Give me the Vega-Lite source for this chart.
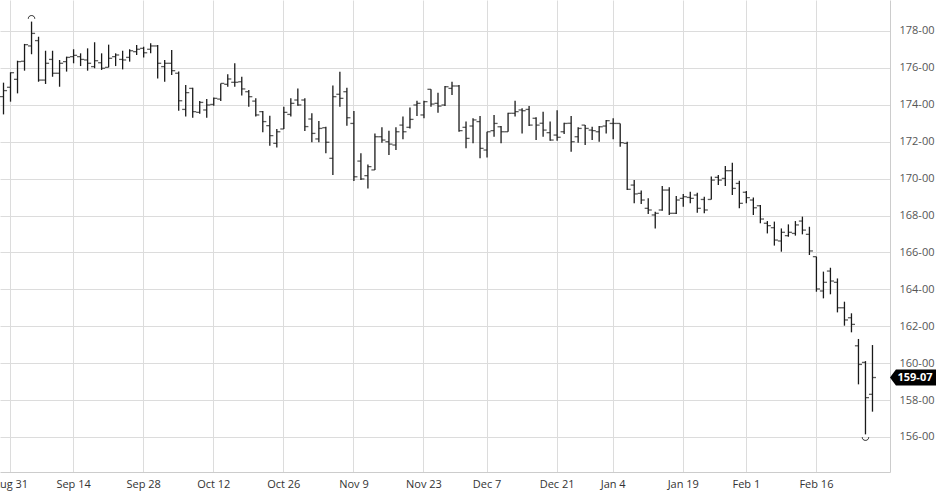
{
  "$schema": "https://vega.github.io/schema/vega-lite/v6.json",
  "width": 890,
  "height": 472,
  "autosize": {"type": "none"},
  "padding": {"left": 0, "top": 0, "right": 46, "bottom": 20},
  "background": "white",
  "config": {"view": {"stroke": null}, "font": "Open Sans"},
  "data": {"values": [
    {"d":"2020-08-28","o":174.44,"h":175.20,"l":173.48,"c":174.77},
    {"d":"2020-08-31","o":174.95,"h":175.76,"l":174.17,"c":175.74},
    {"d":"2020-09-01","o":175.38,"h":176.39,"l":174.62,"c":176.34},
    {"d":"2020-09-02","o":176.36,"h":177.30,"l":175.85,"c":177.26},
    {"d":"2020-09-03","o":177.19,"h":178.51,"l":176.74,"c":177.87},
    {"d":"2020-09-04","o":177.48,"h":177.69,"l":175.25,"c":175.34},
    {"d":"2020-09-08","o":175.34,"h":176.93,"l":175.13,"c":176.25},
    {"d":"2020-09-09","o":176.46,"h":176.93,"l":175.52,"c":175.71},
    {"d":"2020-09-10","o":175.71,"h":176.43,"l":174.98,"c":176.25},
    {"d":"2020-09-11","o":176.34,"h":176.61,"l":175.80,"c":176.57},
    {"d":"2020-09-14","o":176.61,"h":177.01,"l":176.25,"c":176.68},
    {"d":"2020-09-15","o":176.61,"h":176.79,"l":176.10,"c":176.46},
    {"d":"2020-09-16","o":176.43,"h":177.06,"l":175.85,"c":176.25},
    {"d":"2020-09-17","o":176.07,"h":177.39,"l":175.98,"c":176.39},
    {"d":"2020-09-18","o":176.28,"h":176.79,"l":175.89,"c":175.98},
    {"d":"2020-09-21","o":176.03,"h":177.26,"l":176.03,"c":176.52},
    {"d":"2020-09-22","o":176.61,"h":176.79,"l":176.10,"c":176.70},
    {"d":"2020-09-23","o":176.46,"h":176.93,"l":175.92,"c":176.43},
    {"d":"2020-09-24","o":176.57,"h":177.01,"l":176.34,"c":176.93},
    {"d":"2020-09-25","o":176.88,"h":177.24,"l":176.70,"c":177.01},
    {"d":"2020-09-28","o":177.06,"h":177.15,"l":176.57,"c":176.82},
    {"d":"2020-09-29","o":177.01,"h":177.33,"l":176.79,"c":177.19},
    {"d":"2020-09-30","o":177.19,"h":177.24,"l":175.43,"c":176.25},
    {"d":"2020-10-01","o":176.07,"h":176.43,"l":175.25,"c":176.25},
    {"d":"2020-10-02","o":176.25,"h":176.97,"l":175.61,"c":175.85},
    {"d":"2020-10-05","o":175.71,"h":175.80,"l":173.68,"c":174.22},
    {"d":"2020-10-06","o":173.75,"h":175.07,"l":173.36,"c":174.66},
    {"d":"2020-10-07","o":174.89,"h":174.93,"l":173.30,"c":173.63},
    {"d":"2020-10-08","o":173.59,"h":174.20,"l":173.52,"c":174.13},
    {"d":"2020-10-09","o":173.72,"h":174.31,"l":173.30,"c":173.99},
    {"d":"2020-10-12","o":174.02,"h":174.39,"l":173.95,"c":174.35},
    {"d":"2020-10-13","o":174.31,"h":175.16,"l":174.20,"c":175.16},
    {"d":"2020-10-14","o":175.11,"h":175.65,"l":174.98,"c":175.40},
    {"d":"2020-10-15","o":175.22,"h":176.25,"l":174.98,"c":175.22},
    {"d":"2020-10-16","o":175.25,"h":175.52,"l":174.50,"c":174.86},
    {"d":"2020-10-19","o":174.71,"h":174.80,"l":173.90,"c":174.44},
    {"d":"2020-10-20","o":174.20,"h":174.35,"l":173.36,"c":173.45},
    {"d":"2020-10-21","o":173.63,"h":173.66,"l":172.51,"c":173.09},
    {"d":"2020-10-22","o":172.87,"h":173.41,"l":171.78,"c":172.33},
    {"d":"2020-10-23","o":171.91,"h":172.69,"l":171.68,"c":172.54},
    {"d":"2020-10-26","o":172.69,"h":173.90,"l":172.69,"c":173.59},
    {"d":"2020-10-27","o":173.48,"h":174.35,"l":173.36,"c":174.08},
    {"d":"2020-10-28","o":174.26,"h":174.89,"l":173.95,"c":173.99},
    {"d":"2020-10-29","o":174.26,"h":174.35,"l":172.58,"c":172.82},
    {"d":"2020-10-30","o":173.23,"h":173.54,"l":171.97,"c":172.45},
    {"d":"2020-11-02","o":172.15,"h":173.12,"l":171.97,"c":172.72},
    {"d":"2020-11-03","o":172.76,"h":172.81,"l":171.37,"c":171.97},
    {"d":"2020-11-04","o":171.10,"h":175.04,"l":170.19,"c":174.44},
    {"d":"2020-11-05","o":174.57,"h":175.79,"l":173.90,"c":174.35},
    {"d":"2020-11-06","o":174.71,"h":174.93,"l":172.87,"c":173.30},
    {"d":"2020-11-09","o":172.99,"h":173.66,"l":169.87,"c":170.10},
    {"d":"2020-11-10","o":170.95,"h":171.37,"l":169.92,"c":169.98},
    {"d":"2020-11-11","o":170.16,"h":170.77,"l":169.47,"c":170.65},
    {"d":"2020-11-12","o":170.47,"h":172.45,"l":170.47,"c":172.27},
    {"d":"2020-11-13","o":172.27,"h":172.78,"l":171.95,"c":172.09},
    {"d":"2020-11-16","o":172.00,"h":172.60,"l":171.28,"c":171.87},
    {"d":"2020-11-17","o":171.82,"h":172.78,"l":171.55,"c":172.54},
    {"d":"2020-11-18","o":172.90,"h":173.36,"l":172.13,"c":172.54},
    {"d":"2020-11-19","o":172.78,"h":173.86,"l":172.72,"c":173.21},
    {"d":"2020-11-20","o":173.99,"h":174.22,"l":173.39,"c":174.08},
    {"d":"2020-11-23","o":173.45,"h":174.22,"l":173.27,"c":174.17},
    {"d":"2020-11-24","o":174.84,"h":174.84,"l":173.90,"c":174.04},
    {"d":"2020-11-25","o":174.08,"h":174.66,"l":173.57,"c":173.93},
    {"d":"2020-11-27","o":173.99,"h":175.02,"l":173.93,"c":174.98},
    {"d":"2020-11-30","o":174.89,"h":175.25,"l":174.53,"c":175.02},
    {"d":"2020-12-01","o":175.02,"h":175.07,"l":172.54,"c":172.60},
    {"d":"2020-12-02","o":172.78,"h":173.09,"l":171.64,"c":172.18},
    {"d":"2020-12-03","o":172.85,"h":173.27,"l":171.92,"c":173.18},
    {"d":"2020-12-04","o":173.09,"h":173.39,"l":171.10,"c":171.64},
    {"d":"2020-12-07","o":171.55,"h":172.54,"l":171.15,"c":172.54},
    {"d":"2020-12-08","o":172.60,"h":173.45,"l":172.27,"c":172.99},
    {"d":"2020-12-09","o":172.81,"h":172.85,"l":171.91,"c":172.54},
    {"d":"2020-12-10","o":172.54,"h":173.57,"l":172.54,"c":173.54},
    {"d":"2020-12-11","o":173.54,"h":174.22,"l":173.36,"c":173.63},
    {"d":"2020-12-14","o":173.72,"h":173.81,"l":172.45,"c":173.68},
    {"d":"2020-12-15","o":173.75,"h":173.93,"l":172.85,"c":172.90},
    {"d":"2020-12-16","o":173.27,"h":173.32,"l":172.09,"c":172.90},
    {"d":"2020-12-17","o":173.00,"h":173.63,"l":172.27,"c":172.63},
    {"d":"2020-12-18","o":172.49,"h":173.09,"l":172.05,"c":172.09},
    {"d":"2020-12-21","o":172.36,"h":173.70,"l":172.05,"c":172.24},
    {"d":"2020-12-22","o":172.54,"h":173.03,"l":172.42,"c":172.99},
    {"d":"2020-12-23","o":173.00,"h":173.39,"l":171.46,"c":172.00},
    {"d":"2020-12-24","o":172.27,"h":172.78,"l":171.95,"c":172.72},
    {"d":"2020-12-28","o":172.90,"h":172.90,"l":171.82,"c":172.72},
    {"d":"2020-12-29","o":172.63,"h":172.81,"l":172.09,"c":172.60},
    {"d":"2020-12-30","o":172.54,"h":172.85,"l":172.00,"c":172.81},
    {"d":"2020-12-31","o":172.85,"h":173.18,"l":172.45,"c":173.14},
    {"d":"2021-01-04","o":172.99,"h":173.27,"l":172.13,"c":172.99},
    {"d":"2021-01-05","o":172.99,"h":172.99,"l":171.73,"c":171.95},
    {"d":"2021-01-06","o":171.91,"h":172.00,"l":169.38,"c":169.42},
    {"d":"2021-01-07","o":169.65,"h":169.92,"l":168.66,"c":169.17},
    {"d":"2021-01-08","o":169.20,"h":169.35,"l":168.62,"c":168.84},
    {"d":"2021-01-11","o":168.39,"h":168.93,"l":168.08,"c":168.30},
    {"d":"2021-01-12","o":168.03,"h":168.21,"l":167.30,"c":168.12},
    {"d":"2021-01-13","o":168.30,"h":169.60,"l":168.26,"c":169.38},
    {"d":"2021-01-14","o":169.38,"h":169.53,"l":168.03,"c":168.12},
    {"d":"2021-01-15","o":168.12,"h":169.06,"l":168.08,"c":168.84},
    {"d":"2021-01-19","o":168.93,"h":169.17,"l":168.48,"c":169.02},
    {"d":"2021-01-20","o":168.98,"h":169.29,"l":168.66,"c":168.93},
    {"d":"2021-01-21","o":169.11,"h":169.24,"l":168.15,"c":168.39},
    {"d":"2021-01-22","o":168.87,"h":169.02,"l":168.12,"c":168.30},
    {"d":"2021-01-25","o":168.87,"h":170.11,"l":168.87,"c":169.92},
    {"d":"2021-01-26","o":170.07,"h":170.20,"l":169.65,"c":169.92},
    {"d":"2021-01-27","o":170.01,"h":170.68,"l":169.60,"c":170.43},
    {"d":"2021-01-28","o":170.43,"h":170.86,"l":169.11,"c":169.47},
    {"d":"2021-01-29","o":169.74,"h":169.89,"l":168.39,"c":168.66},
    {"d":"2021-02-01","o":169.26,"h":169.33,"l":168.66,"c":168.97},
    {"d":"2021-02-02","o":168.84,"h":168.97,"l":168.03,"c":168.42},
    {"d":"2021-02-03","o":168.53,"h":168.57,"l":167.58,"c":167.81},
    {"d":"2021-02-04","o":167.58,"h":167.70,"l":167.03,"c":167.45},
    {"d":"2021-02-05","o":167.34,"h":167.67,"l":166.37,"c":166.67},
    {"d":"2021-02-08","o":166.62,"h":167.30,"l":166.04,"c":167.09},
    {"d":"2021-02-09","o":166.91,"h":167.52,"l":166.85,"c":167.09},
    {"d":"2021-02-10","o":167.03,"h":167.70,"l":166.91,"c":167.49},
    {"d":"2021-02-11","o":167.70,"h":167.94,"l":166.98,"c":167.21},
    {"d":"2021-02-12","o":166.98,"h":167.39,"l":165.86,"c":166.08},
    {"d":"2021-02-16","o":165.77,"h":165.77,"l":163.87,"c":164.02},
    {"d":"2021-02-17","o":163.91,"h":164.96,"l":163.51,"c":164.38},
    {"d":"2021-02-18","o":164.99,"h":165.17,"l":163.73,"c":164.45},
    {"d":"2021-02-19","o":164.38,"h":164.59,"l":162.75,"c":163.00},
    {"d":"2021-02-22","o":163.00,"h":163.33,"l":162.03,"c":162.34},
    {"d":"2021-02-23","o":162.46,"h":162.70,"l":161.67,"c":162.10},
    {"d":"2021-02-24","o":160.94,"h":161.31,"l":158.85,"c":159.93},
    {"d":"2021-02-25","o":160.04,"h":160.11,"l":156.14,"c":158.13},
    {"d":"2021-02-26","o":158.31,"h":160.98,"l":157.37,"c":159.22}
  ]},
  "encoding": {
    "x": {
      "field": "d",
      "type": "ordinal",
      "scale": {"type": "band", "paddingInner": 0, "paddingOuter": 1.0714, "align": 0},
      "axis": {
        "title": null,
        "values": ["2020-08-31","2020-09-14","2020-09-28","2020-10-12","2020-10-26","2020-11-09","2020-11-23","2020-12-07","2020-12-21","2021-01-04","2021-01-19","2021-02-01","2021-02-16"],
        "labelExpr": "utcFormat(toDate(datum.value), '%b %-d')",
        "bandPosition": 0.5,
        "ticks": false,
        "grid": true,
        "gridColor": "#dcdcdc",
        "gridWidth": 1,
        "domainColor": "#cccccc",
        "labelAngle": 0,
        "labelColor": "#333333",
        "labelFontSize": 11,
        "labelPadding": 6,
        "labelOverlap": false
      }
    }
  },
  "layer": [
    {
      "mark": {"type": "rule", "color": "#1a1a1a", "strokeWidth": 1.3},
      "encoding": {
        "y": {
          "field": "l",
          "type": "quantitative",
          "scale": {"domain": [154.1, 179.68], "nice": false, "zero": false},
          "axis": {
            "orient": "right",
            "title": null,
            "values": [156,158,160,162,164,166,168,170,172,174,176,178],
            "labelExpr": "datum.value + '-00'",
            "ticks": false,
            "grid": true,
            "gridColor": "#dcdcdc",
            "gridWidth": 1,
            "domainColor": "#cccccc",
            "labelColor": "#555555",
            "labelFontSize": 11,
            "labelPadding": 9
          }
        },
        "y2": {"field": "h"}
      }
    },
    {
      "mark": {"type": "tick", "color": "#1a1a1a", "thickness": 1.3, "size": 3.5, "xOffset": -1.8},
      "encoding": {"y": {"field": "o", "type": "quantitative"}}
    },
    {
      "mark": {"type": "tick", "color": "#1a1a1a", "thickness": 1.3, "size": 3.5, "xOffset": 1.8},
      "encoding": {"y": {"field": "c", "type": "quantitative"}}
    },
    {
      "transform": [
        {"joinaggregate": [{"op": "max", "field": "h", "as": "hm"}]},
        {"filter": "datum.h == datum.hm"}
      ],
      "mark": {"type": "point", "shape": "M -1 0.5 C -1 -0.8 1 -0.8 1 0.5", "size": 42, "filled": false, "color": "#1a1a1a", "strokeWidth": 1, "opacity": 1, "yOffset": -4.5},
      "encoding": {"y": {"field": "h", "type": "quantitative"}}
    },
    {
      "transform": [
        {"joinaggregate": [{"op": "min", "field": "l", "as": "lm"}]},
        {"filter": "datum.l == datum.lm"}
      ],
      "mark": {"type": "point", "shape": "M -1 -0.5 C -1 0.8 1 0.8 1 -0.5", "size": 42, "filled": false, "color": "#1a1a1a", "strokeWidth": 1, "opacity": 1, "yOffset": 4.5},
      "encoding": {"y": {"field": "l", "type": "quantitative"}}
    },
    {
      "transform": [{"filter": "datum.d == '2021-02-26'"}],
      "mark": {"type": "point", "shape": "M -1 0 L -0.74 -0.35 L 1 -0.35 L 1 0.35 L -0.74 0.35 Z", "size": 2116, "filled": true, "color": "#000000", "opacity": 1, "strokeWidth": 0, "xOffset": 40.5},
      "encoding": {"y": {"field": "c", "type": "quantitative"}}
    },
    {
      "transform": [
        {"filter": "datum.d == '2021-02-26'"},
        {"calculate": "floor(datum.c) + '-' + pad(toString(round((datum.c - floor(datum.c)) * 32)), 2, '0', 'left')", "as": "lab"}
      ],
      "mark": {"type": "text", "color": "#ffffff", "fontWeight": "bold", "fontSize": 11, "xOffset": 42.5, "baseline": "middle", "align": "center"},
      "encoding": {"y": {"field": "c", "type": "quantitative"}, "text": {"field": "lab"}}
    }
  ]
}
